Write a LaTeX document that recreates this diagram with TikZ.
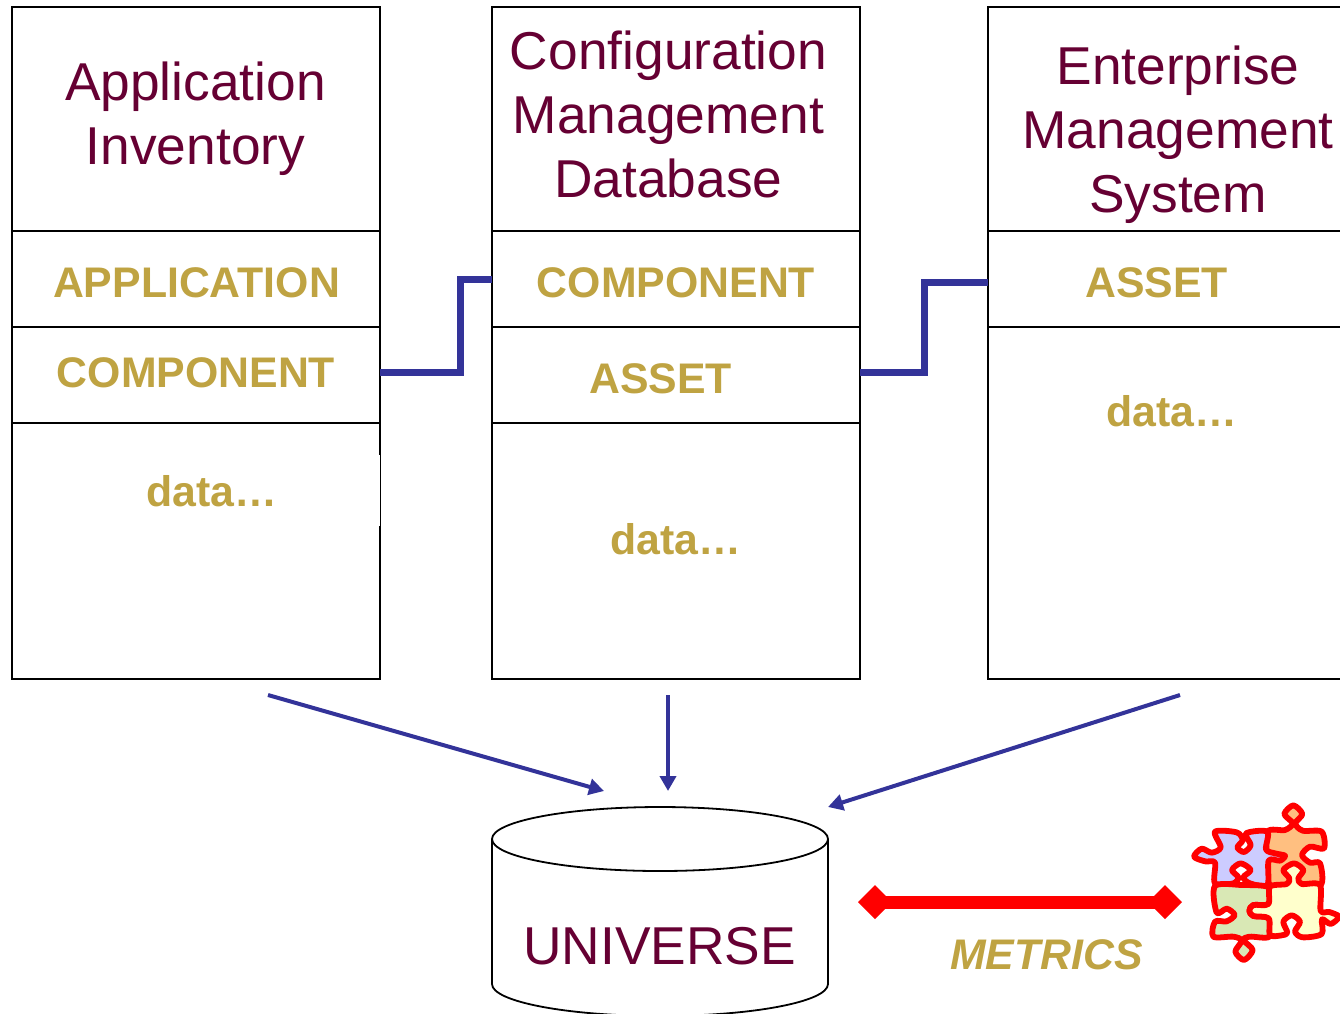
\documentclass[tikz,border=0pt]{standalone}
\usepackage{fontspec}
\setmainfont{Liberation Sans}
\usetikzlibrary{arrows.meta,shapes.geometric}
\definecolor{wine}{HTML}{660033}
\definecolor{gold}{HTML}{BFA342}
\definecolor{navy}{HTML}{333399}
\definecolor{pblue}{HTML}{CCCCFF}
\definecolor{porange}{HTML}{FFBF80}
\definecolor{pgreen}{HTML}{D9E8B5}
\definecolor{pyellow}{HTML}{FFFFCC}
\tikzset{
  cell/.style={draw=black,line width=1.9pt,fill=white,rectangle,inner sep=0pt,outer sep=0pt},
  titletext/.style={text=wine,align=center,inner sep=0pt,font=\fontsize{53.3}{64}\selectfont},
  labeltext/.style={text=gold,inner sep=0pt,anchor=base,font=\fontsize{42.8}{50}\selectfont\bfseries},
  link/.style={draw=navy,line width=7pt,line join=miter},
  feed/.style={draw=navy,line width=4pt,-{Triangle[length=15pt,width=16pt]}},
  piece/.style={draw=red,line width=5.8pt,line join=round},
  tipmark/.style={diamond,fill=red,minimum width=34pt,minimum height=34pt,inner sep=0pt,outer sep=0pt}
}
\newcommand{\cellbox}[5]{\node[cell,minimum width=#3pt,minimum height=#4pt,anchor=north west] (#5) at (#1,#2) {};}
\begin{document}
\begin{tikzpicture}[x=1pt,y=-1pt]
\useasboundingbox (0,0) rectangle (1340,1013);
\clip (0,0) rectangle (1340,1013);
% columns
\cellbox{12}{7}{368}{224}{atitle}
\cellbox{12}{231}{368}{96}{aapp}
\cellbox{12}{327}{368}{96}{acomp}
\cellbox{12}{423}{368}{256}{adata}
\cellbox{492}{7}{368}{224}{ctitle}
\cellbox{492}{231}{368}{96}{ccomp}
\cellbox{492}{327}{368}{96}{casset}
\cellbox{492}{423}{368}{256}{cdata}
\cellbox{988}{7}{368}{224}{etitle}
\cellbox{988}{231}{368}{96}{easset}
\cellbox{988}{327}{368}{352}{edata}
\fill[white] (378.9,455) rectangle (380,526);
% column titles
\node[titletext] (t1) at (195.5,119) {Application\\Inventory};
\node[titletext] (t2) at (668.5,114) {Configuration\\Management\\Database};
\node[titletext] (t3) at (1178,135) {Enterprise\\Management\\System};
% row labels
\node[labeltext] (l1) at (196.5,297) {APPLICATION};
\node[labeltext] (l2) at (196,387) {COMPONENT};
\node[labeltext] (l3) at (212,506) {data…};
\node[labeltext] (l4) at (676,297) {COMPONENT};
\node[labeltext] (l5) at (660.5,393) {ASSET};
\node[labeltext] (l6) at (676,554) {data…};
\node[labeltext] (l7) at (1156.5,297) {ASSET};
\node[labeltext] (l8) at (1172,426) {data…};
% step links
\coordinate (s1a) at (acomp.east |- 0,372);
\coordinate (s1b) at (ccomp.west |- 0,279);
\coordinate (s1m) at (460,0);
\draw[link] (s1a) -- (s1m |- s1a) -- (s1m |- s1b) -- (s1b);
\coordinate (s2a) at (casset.east |- 0,372);
\coordinate (s2b) at (easset.west |- 0,282);
\coordinate (s2m) at (924,0);
\draw[link] (s2a) -- (s2m |- s2a) -- (s2m |- s2b) -- (s2b);
% universe cylinder
\coordinate (cylTop) at (660,839);
\coordinate (cylBot) at (660,984);
\draw[black,line width=1.8pt,fill=white] (492,839) -- (492,984) arc[start angle=180,end angle=0,x radius=168,y radius=32] -- (828,839);
\draw[black,line width=1.8pt,fill=white] (cylTop) ellipse[x radius=168,y radius=32];
\node[text=wine,inner sep=0pt,anchor=base,font=\fontsize{53.3}{64}\selectfont] (univ) at (659.5,964.5) {UNIVERSE};
% feeds
\coordinate (f1a) at (268,695); \coordinate (f1b) at (604,791);
\coordinate (f2a) at (668,695); \coordinate (f2b) at (668,791);
\coordinate (f3a) at (1180,695); \coordinate (f3b) at (828,807);
\draw[feed] (f1a) -- (f1b);
\draw[feed] (f2a) -- (f2b);
\draw[feed] (f3a) -- (f3b);
% metrics
\node[tipmark] (d1) at (875,902) {};
\node[tipmark] (d2) at (1165,902) {};
\draw[red,line width=13pt] (d1.center) -- (d2.center);
\node[text=gold,inner sep=0pt,anchor=base,font=\fontsize{42.8}{50}\selectfont\bfseries\itshape] (metrics) at (1046.5,969) {METRICS};
% puzzle
\begin{scope}[shift={(1170,790)},x=0.3333pt,y=-0.3333pt]
\filldraw[piece,fill=porange] plot[smooth cycle,tension=0.5] coordinates {
 (292,125) (345,120) (368,100) (343,72) (370,46) (397,72) (376,100) (398,122) (455,125) (462,175) (420,170) (396,195) (420,218) (450,220) (452,285) (372,285) (300,285) (292,210)};
\filldraw[piece,fill=pblue] plot[smooth cycle,tension=0.5] coordinates {
 (135,125) (200,127) (218,150) (202,172) (222,186) (242,165) (228,130) (292,125) (288,178) (315,190) (345,197) (330,212) (296,212) (292,285) (240,280) (220,262) (242,240) (212,220) (186,240) (205,262) (190,280) (135,280) (135,218) (105,214) (72,200) (95,176) (125,188) (152,172)};
\filldraw[piece,fill=pgreen] plot[smooth cycle,tension=0.5] coordinates {
 (135,288) (215,285) (296,292) (295,342) (250,345) (238,362) (250,378) (296,385) (298,440) (240,440) (220,450) (248,480) (222,510) (196,485) (215,452) (190,440) (130,440) (135,395) (170,394) (194,375) (170,356) (140,368)};
\filldraw[piece,fill=pyellow] plot[smooth cycle,tension=0.5] coordinates {
 (300,290) (350,282) (358,265) (340,240) (372,220) (400,240) (385,265) (395,282) (450,285) (452,362) (478,366) (507,380) (482,402) (456,388) (455,432) (398,442) (375,425) (390,395) (365,376) (340,395) (352,428) (335,436) (300,435) (296,385) (250,378) (238,362) (250,345) (295,342)};
\end{scope}
\end{tikzpicture}
\end{document}
